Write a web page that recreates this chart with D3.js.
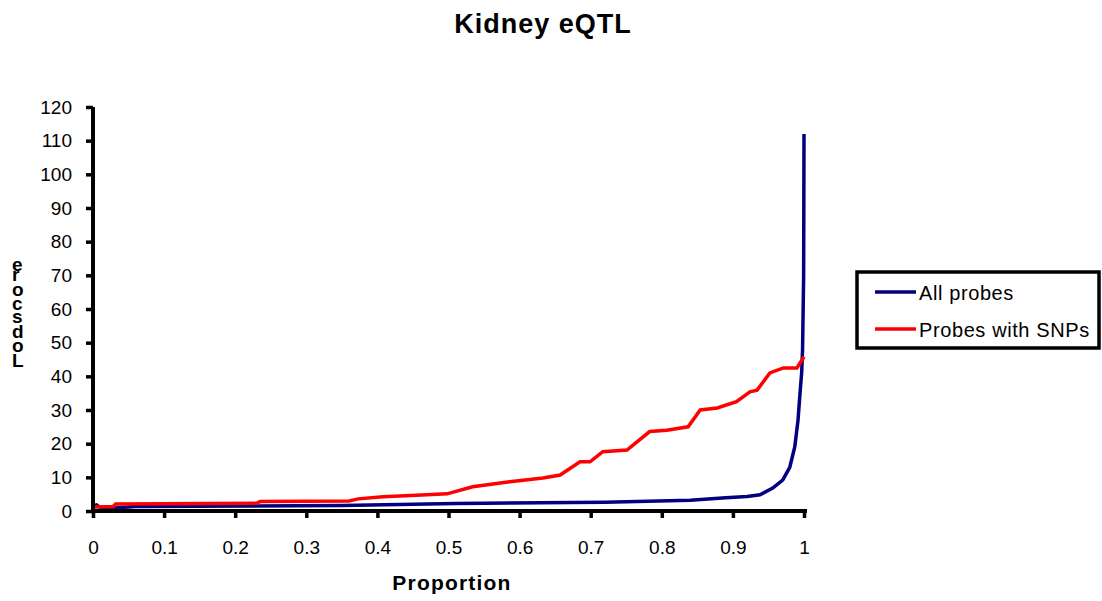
<!DOCTYPE html>
<html>
<head>
<meta charset="utf-8">
<style>
  body { margin: 0; background: #fff; }
  svg { font-family: Arial, "Liberation Sans", sans-serif; }
</style>
</head>
<body>
<svg width="1102" height="601"></svg>
<script src="https://d3js.org/d3.v7.min.js"></script>
<script>
// ---- data ----
var xTicks = [0, 0.1, 0.2, 0.3, 0.4, 0.5, 0.6, 0.7, 0.8, 0.9, 1];
var yTicks = [0, 10, 20, 30, 40, 50, 60, 70, 80, 90, 100, 110, 120];

// All probes (blue)
var propAll = [0, 0.005, 0.012, 0.03, 0.06, 0.35, 0.51, 0.72, 0.84, 0.89, 0.92, 0.938,
               0.956, 0.97, 0.98, 0.987, 0.9916, 0.9944, 0.9967, 0.998, 0.9995, 1.0];
var lodAll  = [1.6, 1.8, 0.7, 0.9, 1.3, 1.6, 2.2, 2.6, 3.2, 3.9, 4.3, 4.8,
               6.8, 9.2, 13, 19, 27, 35, 41, 48, 70, 112];

// Probes with SNPs (red)
var propSnp = [0, 0.028, 0.032, 0.23, 0.235, 0.36, 0.373, 0.408, 0.47, 0.498, 0.534, 0.586,
               0.633, 0.657, 0.685, 0.699, 0.717, 0.751, 0.783, 0.807, 0.837, 0.854,
               0.878, 0.905, 0.924, 0.934, 0.952, 0.971, 0.99, 1.0];
var lodSnp  = [1.2, 1.3, 2.1, 2.3, 2.8, 3.0, 3.6, 4.2, 4.8, 5.1, 7.2, 8.7,
               9.8, 10.7, 14.6, 14.6, 17.6, 18.1, 23.6, 24, 25, 30,
               30.6, 32.5, 35.4, 35.9, 41, 42.5, 42.5, 45.8];

var seriesNames = ["All probes", "Probes with SNPs"];
var seriesColors = ["#000080", "#ff0000"];

// ---- layout ----
var svg = d3.select("svg");
var plotL = 93, plotR = 804, plotT = 107, plotB = 511;

var x = d3.scaleLinear().domain([0, 1]).range([plotL, plotR]);
var y = d3.scaleLinear().domain([0, 120]).range([plotB, plotT]);

// title
svg.append("text")
    .attr("x", 543).attr("y", 33)
    .attr("text-anchor", "middle")
    .attr("font-size", 27).attr("font-weight", "bold")
    .attr("letter-spacing", 1)
    .text("Kidney eQTL");

// lines
var line = d3.line()
    .x(function(d) { return x(d[0]); })
    .y(function(d) { return y(d[1]); });

var allData = d3.zip(propAll, lodAll);
var snpData = d3.zip(propSnp, lodSnp);

svg.append("path")
    .datum(allData)
    .attr("fill", "none")
    .attr("stroke", seriesColors[0])
    .attr("stroke-width", 3.5)
    .attr("d", line);

svg.append("path")
    .datum(snpData)
    .attr("fill", "none")
    .attr("stroke", seriesColors[1])
    .attr("stroke-width", 3.5)
    .attr("d", line);

// axes
var yAxis = svg.append("g")
    .attr("transform", "translate(" + plotL + ",0)")
    .call(d3.axisLeft(y).tickValues(yTicks).tickSize(7).tickPadding(14).tickFormat(d3.format("d")));

var xAxis = svg.append("g")
    .attr("transform", "translate(0," + plotB + ")")
    .call(d3.axisBottom(x).tickValues(xTicks).tickSize(7).tickPadding(23)
      .tickFormat(function(d) { return d === 0 || d === 1 ? d : d3.format(".1f")(d); }));

[xAxis, yAxis].forEach(function(ax) {
  ax.select(".domain").attr("stroke", "#000").attr("stroke-width", 4);
  ax.selectAll(".tick line").attr("stroke", "#000").attr("stroke-width", 3.5);
  ax.selectAll(".tick text").attr("font-size", 19).attr("fill", "#000")
    .attr("font-family", "Arial, 'Liberation Sans', sans-serif");
});
yAxis.select(".domain").attr("d", "M0," + (plotB + 2) + "V" + plotT);
xAxis.select(".domain").attr("d", "M" + (plotL - 2) + ",0H" + (plotR + 3));

// axis titles
svg.append("text")
    .attr("x", 452).attr("y", 590)
    .attr("text-anchor", "middle")
    .attr("font-size", 21).attr("font-weight", "bold")
    .attr("letter-spacing", 1.2)
    .text("Proportion");

// y label: upright letters stacked bottom to top (text turned -90, glyphs turned back)
svg.append("text")
    .attr("transform", "translate(12,367) rotate(-90)")
    .attr("rotate", 90)
    .attr("font-size", 19).attr("font-weight", "bold")
    .attr("letter-spacing", 3)
    .text("Lodscore");

// legend
var legend = svg.append("g");
legend.append("rect")
    .attr("x", 857).attr("y", 272)
    .attr("width", 242).attr("height", 76)
    .attr("fill", "#fff").attr("stroke", "#000").attr("stroke-width", 3.5);

var item = legend.selectAll("g.item")
    .data(seriesNames)
    .enter().append("g")
    .attr("class", "item")
    .attr("transform", function(d, i) { return "translate(0," + (292 + i * 37) + ")"; });

item.append("line")
    .attr("x1", 875).attr("x2", 916)
    .attr("stroke", function(d, i) { return seriesColors[i]; })
    .attr("stroke-width", 3.5);

item.append("text")
    .attr("x", 919).attr("y", 7.5)
    .attr("font-size", 20)
    .attr("letter-spacing", 0.6)
    .text(function(d) { return d; });
</script>
</body>
</html>
